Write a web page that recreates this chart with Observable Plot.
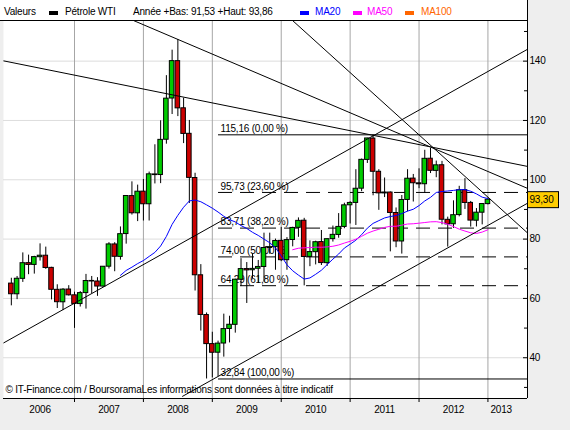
<!DOCTYPE html>
<html><head><meta charset="utf-8">
<script src="https://cdn.jsdelivr.net/npm/d3@7"></script>
<script src="https://cdn.jsdelivr.net/npm/@observablehq/plot@0.6"></script>
<style>
body{margin:0;background:#eeeeee;}
#wrap{position:relative;width:570px;height:430px;background:#eeeeee;font-family:"Liberation Sans",Arial,sans-serif;overflow:hidden;}
#chart{position:absolute;left:0;top:0;}
#hdr{position:absolute;left:0;top:0;width:527px;height:20px;background:#fff;border-right:1px solid #000;border-bottom:1px solid #000;font-size:10px;letter-spacing:-0.2px;color:#000;}
#hdr span{position:absolute;top:6px;line-height:12px;white-space:nowrap;}
#hdr i{position:absolute;top:11px;width:9px;height:4px;}
</style></head><body>
<div id="wrap"><div id="chart"></div><div id="hdr"></div></div>
<script>
// ---- data (monthly candles, Feb 2006 .. Jan 2013) ----
const firstMonth = "2006-02";
const lastMonth = "2013-01";
const opens = [
 65.0, 61.4, 66.6, 71.9, 71.3, 73.9, 74.4, 70.3, 62.9, 58.7, 63.0,
 61.05, 58.1, 61.8, 65.9, 65.7, 64.0, 70.7, 78.2, 74.0, 81.7, 94.5, 88.7,
 96.0, 91.75, 101.8, 101.6, 113.5, 127.4, 140.0, 124.1, 115.5, 100.6, 67.8, 54.4,
 44.6, 41.7, 44.8, 49.7, 51.1, 66.3, 69.9, 69.5, 70.0, 70.6, 77.0, 77.3,
 79.4, 72.9, 79.7, 83.8, 86.2, 74.0, 75.6, 79.0, 71.9, 80.0, 81.4, 84.1,
 91.4, 92.2, 97.0, 106.7, 113.9, 102.7, 95.4, 95.7, 88.8, 79.2, 93.2, 100.4,
 98.8, 98.5, 107.1, 103.0, 104.9, 86.5, 85.0, 88.1, 96.5, 92.2, 86.2, 88.9,
 91.8];
const highs = [
 66.8, 67.4, 75.35, 74.6, 74.2, 78.4, 77.3, 70.5, 64.6, 63.3, 64.3,
 62.1, 62.3, 68.1, 67.4, 67.0, 70.7, 78.8, 78.8, 84.1, 94.7, 99.3, 98.2,
 100.1, 102.6, 111.8, 119.9, 135.1, 143.7, 147.27, 127.5, 120.0, 102.2, 71.4, 55.1,
 48.6, 45.6, 54.7, 54.0, 66.5, 73.4, 72.1, 75.0, 72.8, 82.0, 82.0, 80.0,
 83.95, 80.5, 84.0, 87.15, 87.0, 79.4, 79.3, 82.9, 80.1, 84.4, 88.6, 92.1,
 92.6, 103.4, 107.0, 114.0, 115.16, 103.4, 100.6, 95.9, 90.5, 94.7, 103.4, 101.8,
 103.7, 109.95, 110.55, 106.3, 106.2, 87.4, 92.9, 97.8, 100.4, 92.7, 90.3, 92.0,
 93.86];
const lows = [
 57.5, 59.6, 65.4, 68.0, 68.2, 72.6, 69.8, 59.5, 56.6, 55.9, 60.8,
 49.9, 57.1, 56.4, 61.6, 60.7, 63.7, 69.9, 69.0, 72.9, 78.3, 88.1, 85.9,
 86.1, 86.1, 98.6, 98.7, 112.0, 122.0, 121.3, 112.2, 92.0, 62.5, 49.0, 32.84,
 33.2, 33.6, 40.2, 45.0, 48.3, 64.0, 58.3, 66.6, 65.1, 65.5, 74.9, 69.5,
 72.4, 69.5, 77.4, 80.6, 64.24, 70.7, 71.3, 71.1, 70.8, 79.0, 80.3, 83.5,
 85.1, 84.6, 96.0, 105.5, 94.6, 89.7, 94.0, 75.7, 77.1, 74.95, 89.2, 92.5,
 97.0, 95.4, 102.1, 100.7, 84.8, 77.3, 83.6, 87.5, 90.0, 84.05, 84.1, 84.8,
 91.53];
const closes = [
 61.41, 66.63, 71.88, 71.29, 73.93, 74.40, 70.26, 62.91, 58.73, 62.97, 61.05,
 58.14, 61.79, 65.87, 65.71, 64.01, 70.68, 78.21, 74.04, 81.66, 94.53, 88.71, 95.98,
 91.75, 101.84, 101.58, 113.46, 127.35, 140.00, 124.08, 115.46, 100.64, 67.81, 54.43, 44.60,
 41.68, 44.76, 49.66, 51.12, 66.31, 69.89, 69.45, 69.96, 70.61, 77.00, 77.28, 79.36,
 72.89, 79.66, 83.76, 86.15, 73.97, 75.63, 78.95, 71.92, 79.97, 81.43, 84.11, 91.38,
 92.19, 96.97, 106.72, 113.93, 102.70, 95.42, 95.70, 88.81, 79.20, 93.19, 100.36, 98.83,
 98.48, 107.07, 103.02, 104.87, 86.53, 84.96, 88.06, 96.47, 92.19, 86.24, 88.91, 91.82,
 93.30];

// Fibonacci retracement levels (value, percent), solid for 0% and 100%
const fibValues = [115.16, 95.73, 83.71, 74.00, 64.29, 32.84];
const fibPercents = [0.00, 23.60, 38.20, 50.00, 61.80, 100.00];
const fibStartMonth = 37.08;   // month index where the retracement starts

// trend lines: [month index, price] end points
const trendLines = [
  {x1: -0.37, y1: 140.1, x2: 90.9, y2: 104.5},
  {x1: 22.27, y1: 153.7, x2: 90.9, y2: 97.1},
  {x1: 49.91, y1: 153.8, x2: 90.9, y2: 82.06},
  {x1: -0.37, y1: 44.97, x2: 90.9, y2: 144.0},
  {x1: 30.76, y1: 26.93, x2: 90.9, y2: 92.1}
];

const yLabels = [40, 60, 80, 100, 120, 140];
const yMinor = [30, 50, 70, 90, 110, 130, 150];
const yearStarts = [12, 24, 36, 48, 60, 72, 84];
const yearLabelPos = [6, 18, 30, 42, 54, 66, 78, 86.3];
const yearLabels = ["2006", "2007", "2008", "2009", "2010", "2011", "2012", "2013"];
const footnote = "\u00A9 IT-Finance.com / BoursoramaLes informations sont donn\u00E9es \u00E0 titre indicatif";
const maPeriods = [20, 50, 100];
const maColors = ["#0000ff", "#ff00ff", "#ff6600"];

// ---- build ----
const fmt = v => v.toFixed(2).replace(".", ",");
const months = d3.utcMonth.range(d3.utcParse("%Y-%m")(firstMonth), d3.utcMonth.offset(d3.utcParse("%Y-%m")(lastMonth), 1));
const idx = m => (m.getUTCFullYear() - 2006) * 12 + m.getUTCMonth();
const candles = months.map((m, k) => ({i: idx(m), o: opens[k], h: highs[k], l: lows[k], c: closes[k]}));
function sma(arr, n) { return arr.map((_, k) => k >= n - 1 ? d3.mean(arr.slice(k - n + 1, k + 1)) : NaN); }
const maSeries = maPeriods.map((n, j) => {
  const s = sma(closes, n);
  return candles.map((d, k) => ({i: d.i, v: s[k], color: maColors[j]})).filter(d => !isNaN(d.v));
});
const fib = fibValues.map((v, k) => ({v, p: fibPercents[k], solid: fibPercents[k] === 0 || fibPercents[k] === 100}));
const xDomain = [-0.366, 90.89];
const yDomain = [26.26, 153.7];
const last = closes[closes.length - 1];
const plotW = 570 - 3 - 43;
const labelMap = new Map(yearLabelPos.map((p, k) => [p, yearLabels[k]]));

const chart = Plot.plot({
  width: 570, height: 430,
  marginLeft: 3, marginRight: 43, marginTop: 20, marginBottom: 32,
  x: {type: "linear", domain: xDomain, label: null},
  y: {type: "linear", domain: yDomain, label: null},
  style: {fontFamily: "'Liberation Sans', Arial, sans-serif", fontSize: "10px", letterSpacing: "-0.2px", color: "black", background: "transparent", overflow: "visible"},
  marks: [
    Plot.frame({fill: "white", stroke: null}),
    Plot.ruleY(yLabels, {stroke: "#dddddd"}),
    Plot.ruleX(yearStarts, {stroke: "#a6a6a6"}),
    Plot.ruleY(fib.filter(d => d.solid), {y: "v", x1: fibStartMonth, x2: xDomain[1], stroke: "black"}),
    Plot.ruleY(fib.filter(d => !d.solid), {y: "v", x1: fibStartMonth, x2: xDomain[1], stroke: "black", strokeDasharray: "14,8"}),
    Plot.text(fib, {x: fibStartMonth, y: "v", text: d => `${fmt(d.v)} (${fmt(d.p)} %)`, textAnchor: "start", dx: 2, dy: -6, fill: "black"}),
    Plot.ruleX(candles, {x: "i", y1: "l", y2: "h", stroke: "black"}),
    Plot.rect(candles, {x1: d => d.i - 0.5, x2: d => d.i + 0.5, y1: "o", y2: "c", insetLeft: 0.6, insetRight: 0.6,
      fill: d => d.c >= d.o ? "#00cc00" : "#cc0000", stroke: "black"}),
    ...maSeries.map(s => Plot.line(s, {x: "i", y: "v", stroke: "color", strokeWidth: 1})),
    Plot.link(trendLines, {x1: "x1", y1: "y1", x2: "x2", y2: "y2", stroke: "black", strokeWidth: 1, clip: true}),
    Plot.text([footnote], {frameAnchor: "bottom-left", dx: 2, dy: -5.5, textAnchor: "start", fill: "black"}),
    // axes
    Plot.ruleY([yDomain[0]], {stroke: "black"}),
    Plot.ruleX([xDomain[1]], {stroke: "black"}),
    Plot.tickY(yLabels, {y: d => d, insetLeft: plotW - 4, stroke: "black"}),
    Plot.tickY(yMinor, {y: d => d, insetLeft: plotW - 3, stroke: "black"}),
    Plot.axisY({anchor: "right", ticks: yLabels, tickSize: 0, tickPadding: 2, tickFormat: d => String(d), label: null}),
    Plot.axisX({anchor: "bottom", ticks: yearStarts, tickSize: 4, tickFormat: () => "", label: null}),
    Plot.axisX({anchor: "bottom", ticks: yearLabelPos, tickSize: 0, tickPadding: 7, tickFormat: d => labelMap.get(d), label: null}),
    // last price box
    Plot.tickY([last], {y: d => d, stroke: "black", strokeWidth: 17, insetLeft: plotW, insetRight: -32}),
    Plot.tickY([last], {y: d => d, stroke: "#ffcc00", strokeWidth: 15, insetLeft: plotW + 1, insetRight: -31}),
    Plot.text([last], {y: d => d, frameAnchor: "right", dx: 2, textAnchor: "start", text: d => fmt(d), fill: "black"})
  ]
});
document.getElementById("chart").appendChild(chart);

// header legend
const hdr = document.getElementById("hdr");
const items = [
  {t: "span", x: 4, text: "Valeurs", c: "#000"},
  {t: "i", x: 49, c: "#000"},
  {t: "span", x: 65, text: "P\u00E9trole WTI", c: "#000"},
  {t: "span", x: 133, text: `Ann\u00E9e +Bas: ${fmt(lows[lows.length - 1])} +Haut: ${fmt(highs[highs.length - 1])}`, c: "#000"},
  {t: "i", x: 300, c: maColors[0]},
  {t: "span", x: 315, text: "MA20", c: maColors[0]},
  {t: "i", x: 353, c: maColors[1]},
  {t: "span", x: 367, text: "MA50", c: maColors[1]},
  {t: "i", x: 405, c: maColors[2]},
  {t: "span", x: 421, text: "MA100", c: maColors[2]}
];
for (const it of items) {
  const el = document.createElement(it.t);
  el.style.left = it.x + "px";
  if (it.t === "span") { el.textContent = it.text; el.style.color = it.c; }
  else el.style.background = it.c;
  hdr.appendChild(el);
}
</script>
</body></html>
